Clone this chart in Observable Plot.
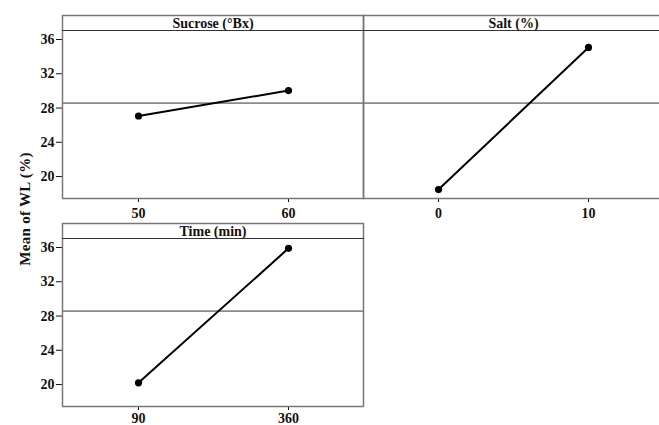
<!DOCTYPE html>
<html>
<head>
<meta charset="utf-8">
<script src="https://cdn.jsdelivr.net/npm/d3@7"></script>
<script src="https://cdn.jsdelivr.net/npm/@observablehq/plot@0.6"></script>
<style>
  html, body { margin: 0; padding: 0; background: white; overflow: hidden; }
  #chart { position: relative; width: 659px; height: 425px; overflow: hidden; background: white; }
  #chart > .p { position: absolute; }
  #ylab { position: absolute; left: 25px; top: 209px; transform: translate(-50%, -50%) rotate(-90deg);
          white-space: nowrap; font-family: "Liberation Serif", serif; font-weight: bold; font-size: 15px; letter-spacing: 0.3px; color: #111; }
</style>
</head>
<body>
<div id="chart"><div id="ylab">Mean of WL (%)</div></div>
<script>
const factors = ["Sucrose (°Bx)", "Salt (%)", "Time (min)"];
const levels = [[50, 60], [0, 10], [90, 360]];
const means = [[27.07, 30.04], [18.48, 35.07], [20.2, 35.9]];
const grandMean = 28.58;
const yTicks = [20, 24, 28, 32, 36];
const yAxisLabel = "Mean of WL (%)";

const layout = [
  {left: 0, top: 0, width: 363, marginLeft: 62, yAxis: true, pad: 6},
  {left: 352, top: 0, width: 311, marginLeft: 11, yAxis: false, pad: 6},
  {left: 0, top: 208, width: 363, marginLeft: 62, yAxis: true, pad: 3}
];

const chart = document.getElementById("chart");

factors.forEach((title, i) => {
  const data = levels[i].map((lv, j) => ({level: lv, mean: means[i][j]}));
  const L = layout[i];
  const p = Plot.plot({
    width: L.width,
    height: 223,
    marginTop: 15,
    marginLeft: L.marginLeft,
    marginRight: 0,
    marginBottom: 25,
    style: {fontFamily: "Liberation Serif, serif", fontWeight: "bold", fontSize: "14px", color: "#111", background: "transparent", overflow: "visible"},
    x: {type: "point", domain: levels[i], padding: 0.5, align: 0.5, label: null, tickSize: 4, tickPadding: L.pad},
    y: {domain: [17.44, 37.05], insetTop: 15, ticks: yTicks, label: null, axis: L.yAxis ? "left" : null, tickSize: 6, tickPadding: 2},
    marks: [
      Plot.ruleY([grandMean], {stroke: "#333", strokeWidth: 1}),
      Plot.line(data, {x: "level", y: "mean", stroke: "black", strokeWidth: 2}),
      Plot.dot(data, {x: "level", y: "mean", r: 3.6, fill: "black"}),
      Plot.frame({stroke: "#777", strokeWidth: 1.5}),
      Plot.frame({anchor: "top", insetTop: 15, stroke: "#333", strokeWidth: 1.2}),
      Plot.text([title], {text: d => d, frameAnchor: "top", lineAnchor: "middle", dy: 8, fontWeight: "bold", fontSize: 14, fill: "#111"})
    ]
  });
  p.classList.add("p");
  p.style.left = L.left + "px";
  p.style.top = L.top + "px";
  chart.appendChild(p);
});
</script>
</body>
</html>
